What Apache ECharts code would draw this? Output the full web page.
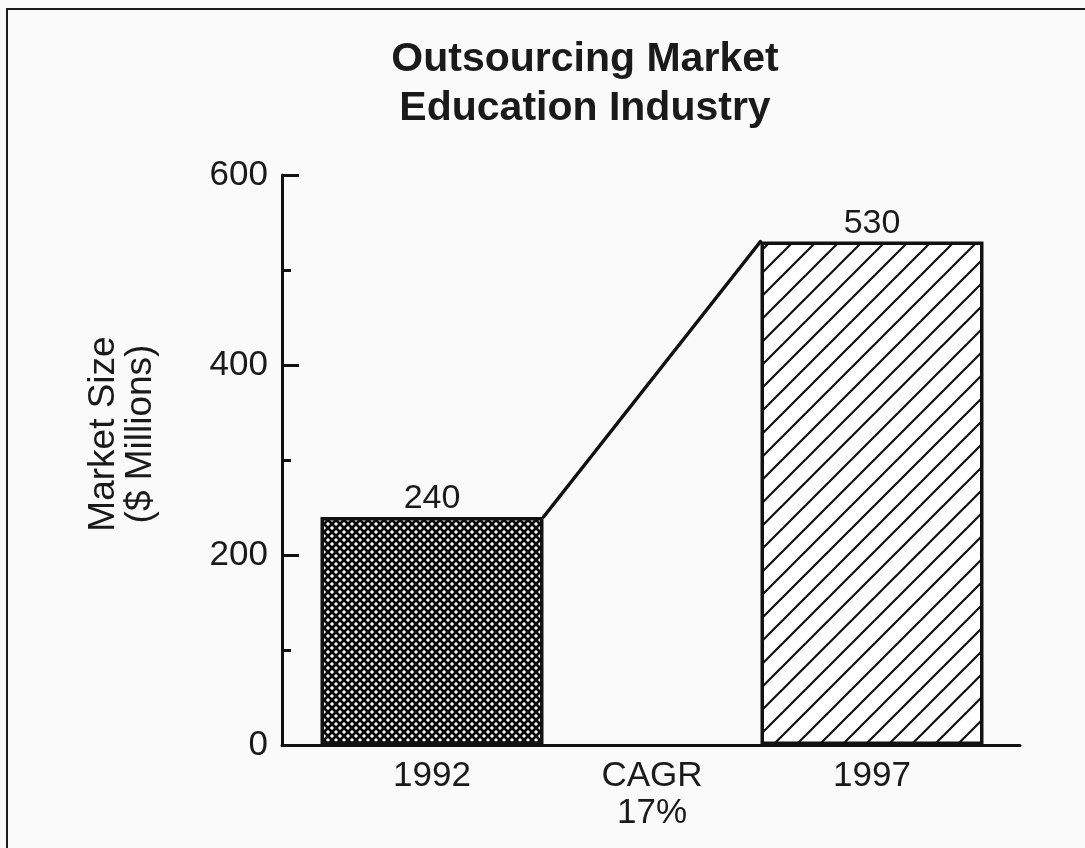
<!DOCTYPE html>
<html>
<head>
<meta charset="utf-8">
<script src="https://cdn.jsdelivr.net/npm/echarts@6/dist/echarts.min.js"></script>
<style>
  html, body { margin: 0; padding: 0; background: #fafafa; }
  #chart { width: 1085px; height: 848px; }
</style>
</head>
<body>
<div id="chart"></div>
<script>
// Market size in $ millions, one slot per category; the middle slot holds the growth note
const categories = ['1992', 'CAGR\n17%', '1997'];
const marketSize = [240, null, 530];
const yTicks = { min: 0, max: 600, interval: 200 };

const FONT = "'Liberation Sans', Arial, Helvetica, sans-serif";
const BAR_WIDTH = 223;

// Dense cross-hatch fill
function crossHatch() {
  const t = 16, step = 8;
  const c = document.createElement('canvas');
  c.width = t; c.height = t;
  const g = c.getContext('2d');
  g.fillStyle = '#ffffff';
  g.fillRect(0, 0, t, t);
  g.strokeStyle = '#0d0d0d';
  g.lineWidth = 2.7;
  for (let k = -2; k <= 4; k++) {
    const o = k * step;
    g.beginPath(); g.moveTo(o - 2, -2); g.lineTo(o + t + 2, t + 2); g.stroke();
    g.beginPath(); g.moveTo(o - 2, t + 2); g.lineTo(o + t + 2, -2); g.stroke();
  }
  return c;
}

// Single-direction diagonal hatch fill
function diagonalHatch() {
  const t = 23;
  const c = document.createElement('canvas');
  c.width = t; c.height = t;
  const g = c.getContext('2d');
  g.fillStyle = '#ffffff';
  g.fillRect(0, 0, t, t);
  g.strokeStyle = '#111111';
  g.lineWidth = 2.2;
  for (let k = -1; k <= 1; k++) {
    const o = k * t;
    g.beginPath(); g.moveTo(o - 2, t + 2); g.lineTo(o + t + 2, -2); g.stroke();
  }
  return c;
}

const fills = [
  { image: crossHatch(), repeat: 'repeat' },
  null,
  { image: diagonalHatch(), repeat: 'repeat' }
];

const barData = marketSize.map((v, i) => v == null ? null : {
  value: v,
  itemStyle: { color: fills[i], borderColor: '#111', borderWidth: 3.5 }
});

const chart = echarts.init(document.getElementById('chart'), null, { renderer: 'canvas' });

chart.setOption({
  backgroundColor: '#fafafa',
  animation: false,
  title: {
    text: 'Outsourcing Market\nEducation Industry',
    left: 580,
    top: 30,
    textAlign: 'center',
    textStyle: {
      fontFamily: FONT, fontSize: 41, fontWeight: 'bold',
      color: '#1a1a1a', lineHeight: 49
    }
  },
  graphic: [
    {
      type: 'rect', z: -1, silent: true,
      shape: { x: 7, y: 9, width: 1200, height: 1000 },
      style: { fill: 'none', stroke: '#1a1a1a', lineWidth: 2 }
    },
    {
      type: 'text', silent: true,
      x: 122, y: 434, rotation: Math.PI / 2,
      style: {
        text: 'Market Size\n($ Millions)',
        font: '37px ' + FONT,
        fill: '#1a1a1a',
        align: 'center', verticalAlign: 'middle',
        textAlign: 'center', textVerticalAlign: 'middle',
        lineHeight: 37
      }
    }
  ],
  grid: [
    { left: 282, right: 65, top: 175, bottom: 103 },
    { left: 322, right: 103, top: 175, bottom: 103 }
  ],
  xAxis: [
    {
      // baseline spanning the full plot width
      gridIndex: 0, type: 'value', min: 0, max: 1,
      axisLine: { show: true, lineStyle: { color: '#111', width: 3 } },
      axisTick: { show: false }, axisLabel: { show: false }, splitLine: { show: false }
    },
    {
      gridIndex: 1, type: 'category', data: categories,
      axisLine: { show: false }, axisTick: { show: false },
      axisLabel: {
        margin: 13, fontFamily: FONT, fontSize: 35, color: '#1a1a1a',
        lineHeight: 37, interval: 0
      }
    }
  ],
  yAxis: [
    {
      gridIndex: 0, type: 'value',
      min: yTicks.min, max: yTicks.max, interval: yTicks.interval,
      axisLine: { show: true, lineStyle: { color: '#111', width: 3 } },
      axisTick: { show: true, inside: true, length: 17, lineStyle: { color: '#111', width: 3 } },
      minorTick: { show: true, splitNumber: 2, length: 9, lineStyle: { color: '#111', width: 3 } },
      axisLabel: { margin: 14, fontFamily: FONT, fontSize: 35, color: '#1a1a1a' },
      splitLine: { show: false }
    },
    {
      gridIndex: 1, type: 'value',
      min: yTicks.min, max: yTicks.max, interval: yTicks.interval,
      show: false
    }
  ],
  series: [
    {
      type: 'bar', xAxisIndex: 1, yAxisIndex: 1,
      barWidth: BAR_WIDTH,
      data: barData,
      label: {
        show: true, position: 'top', distance: 1,
        fontFamily: FONT, fontSize: 34, color: '#1a1a1a'
      }
    },
    {
      // growth line joining the top-right of the first bar to the top-left of the last
      type: 'custom', xAxisIndex: 1, yAxisIndex: 1,
      data: [[marketSize[0], marketSize[2]]],
      renderItem: function (params, api) {
        const a = api.coord([0, api.value(0)]);
        const b = api.coord([2, api.value(1)]);
        return {
          type: 'line',
          shape: { x1: a[0] + BAR_WIDTH / 2, y1: a[1], x2: b[0] - BAR_WIDTH / 2, y2: b[1] },
          style: { stroke: '#111', lineWidth: 3.5, lineCap: 'round' }
        };
      },
      z: 3
    }
  ]
});
</script>
</body>
</html>
